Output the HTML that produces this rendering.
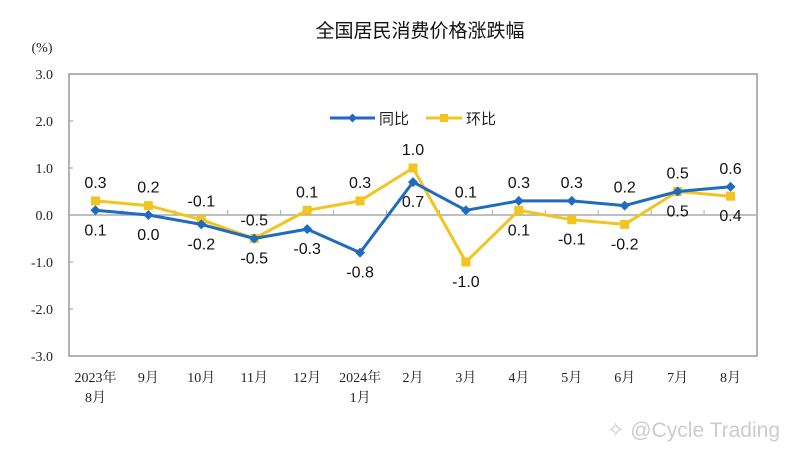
<!DOCTYPE html>
<html><head><meta charset="utf-8"><style>
body{margin:0;background:#fff;}
svg{display:block;font-family:"Liberation Sans","Noto Sans CJK SC",sans-serif;}
</style></head><body>
<svg id="c" width="788" height="451" viewBox="0 0 788 451">
<text x="420" y="37" font-size="19" text-anchor="middle" fill="#111">全国居民消费价格涨跌幅</text>
<text x="42" y="52" font-size="14" text-anchor="middle" fill="#222" font-family="Liberation Serif, serif">(%)</text>
<rect x="69" y="74" width="688" height="282" fill="none" stroke="#999" stroke-width="1.5"/>
<g id="axes"></g><g id="series"></g>
<g>
<line x1="330" y1="118" x2="375" y2="118" stroke="#1F6BBF" stroke-width="3"/>
<path d="M352.5 113.5 L357 118 L352.5 122.5 L348 118Z" fill="#1F6BBF"/>
<text x="379" y="124" font-size="15" fill="#222">同比</text>
<line x1="426" y1="118" x2="462" y2="118" stroke="#F2C420" stroke-width="3"/>
<rect x="440" y="114" width="8" height="8" fill="#F2C420"/>
<text x="466" y="124" font-size="15" fill="#222">环比</text>
</g>
<text x="780" y="437" font-size="21" text-anchor="end" fill="#ccc">✧ @Cycle Trading</text>
</svg>
<script>
const categories=["2023年|8月","9月","10月","11月","12月","2024年|1月","2月","3月","4月","5月","6月","7月","8月"];
const yoy=[0.1,0.0,-0.2,-0.5,-0.3,-0.8,0.7,0.1,0.3,0.3,0.2,0.5,0.6];
const mom=[0.3,0.2,-0.1,-0.5,0.1,0.3,1.0,-1.0,0.1,-0.1,-0.2,0.5,0.4];
const yTicks=[3,2,1,0,-1,-2,-3];
const NS="http://www.w3.org/2000/svg";
const L=69,R=757,T=74,B=356,ymin=-3,ymax=3;
const bw=(R-L)/categories.length;
const x=i=>L+bw*(i+0.5);
const y=v=>B-(v-ymin)/(ymax-ymin)*(B-T);
function mk(t,a,p){const e=document.createElementNS(NS,t);for(const k in a)e.setAttribute(k,a[k]);p.appendChild(e);return e;}
const ax=document.getElementById('axes'),sr=document.getElementById('series');
yTicks.forEach(v=>{
 const t=mk('text',{x:53,y:y(v)+5,'font-size':14,'text-anchor':'end',fill:'#222','font-family':'"Liberation Serif",serif'},ax);
 
 
 t.textContent=v.toFixed(1);
 const tk=mk('line',{x1:L,x2:L+4,y1:y(v),y2:y(v),stroke:'#999'},ax);
 
 
});
const zl=mk('line',{x1:L,x2:R,y1:y(0),y2:y(0),stroke:'#aaa','stroke-width':1.5},ax);


categories.forEach((c,i)=>{
 if(i>0){const tk=mk('line',{x1:L+bw*i,x2:L+bw*i,y1:y(0),y2:y(0)-5,stroke:'#aaa'},ax);
 
 }
 const parts=c.split('|');
 parts.forEach((p,j)=>{
  const t=mk('text',{x:x(i),y:382+j*20,'font-size':14,'text-anchor':'middle',fill:'#222','font-family':'"Liberation Serif","Noto Serif CJK SC",serif'},ax);
  
  
  t.textContent=p;
 });
});
function series(vals,color,name,marker,labelAboveFn){
 const pl=mk('polyline',{points:vals.map((v,i)=>x(i)+','+y(v)).join(' '),fill:'none',stroke:color,'stroke-width':3,'stroke-linejoin':'round'},sr);
 
 
 vals.forEach((v,i)=>{
  const cx=x(i),cy=y(v);
  let m;
  if(marker==='d') m=mk('path',{d:`M${cx} ${cy-5}L${cx+5} ${cy}L${cx} ${cy+5}L${cx-5} ${cy}Z`,fill:color},sr);
  else m=mk('rect',{x:cx-4.5,y:cy-4.5,width:9,height:9,fill:color},sr);
  
  
  const above=labelAboveFn(i);
  const t=mk('text',{x:cx,y:above?cy-13:cy+25,'font-size':16,'text-anchor':'middle',fill:'#111'},sr);
  
  
  t.textContent=v.toFixed(1);
 });
}
series(mom,'#F2C420','mom','s',i=>i<7);
series(yoy,'#1F6BBF','yoy','d',i=>i>=7);
</script>
</body></html>
